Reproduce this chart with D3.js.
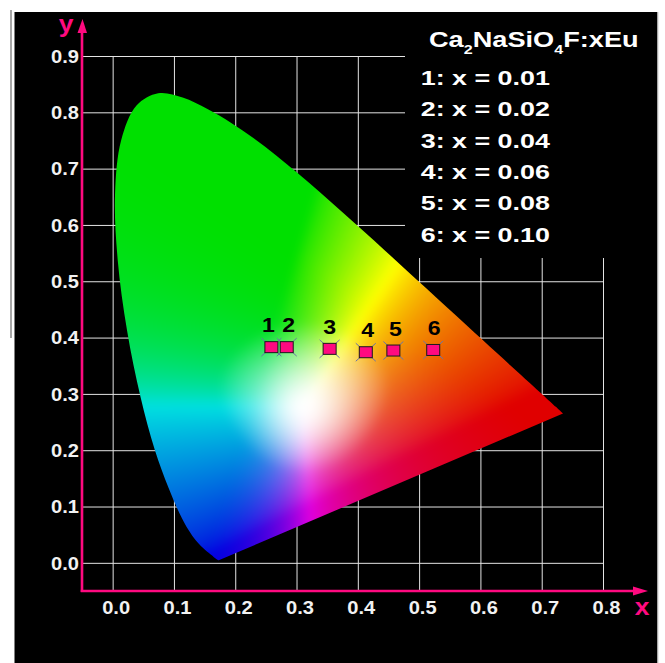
<!DOCTYPE html>
<html>
<head>
<meta charset="utf-8">
<script src="https://cdn.jsdelivr.net/npm/d3@7"></script>
<style>
  html, body { margin: 0; padding: 0; background: #fff; }
  svg { display: block; }
</style>
</head>
<body>
<svg id="chart" width="665" height="663"></svg>
<script>
// CIE 1931 2° spectral locus, 380–700 nm in 5 nm steps
const locusX = [0.1741,0.1740,0.1738,0.1736,0.1733,0.1730,0.1726,0.1721,0.1714,0.1703,
  0.1689,0.1669,0.1644,0.1611,0.1566,0.1510,0.1440,0.1355,0.1241,0.1096,
  0.0913,0.0687,0.0454,0.0235,0.0082,0.0039,0.0139,0.0389,0.0743,0.1142,
  0.1547,0.1929,0.2296,0.2658,0.3016,0.3373,0.3731,0.4087,0.4441,0.4788,
  0.5125,0.5448,0.5752,0.6029,0.6270,0.6482,0.6658,0.6801,0.6915,0.7006,
  0.7079,0.7140,0.7190,0.7230,0.7260,0.7283,0.7300,0.7311,0.7320,0.7327,
  0.7334,0.7340,0.7344,0.7346,0.7347];
const locusY = [0.0050,0.0050,0.0049,0.0049,0.0048,0.0048,0.0048,0.0048,0.0051,0.0058,
  0.0069,0.0086,0.0109,0.0138,0.0177,0.0227,0.0297,0.0399,0.0578,0.0868,
  0.1327,0.2007,0.2950,0.4127,0.5384,0.6548,0.7502,0.8120,0.8338,0.8262,
  0.8059,0.7816,0.7543,0.7243,0.6923,0.6589,0.6245,0.5896,0.5547,0.5202,
  0.4866,0.4544,0.4242,0.3965,0.3725,0.3514,0.3340,0.3197,0.3083,0.2993,
  0.2920,0.2859,0.2809,0.2770,0.2740,0.2717,0.2700,0.2689,0.2680,0.2673,
  0.2666,0.2660,0.2656,0.2654,0.2653];

// Axis ticks
const xTicks = [0.0, 0.1, 0.2, 0.3, 0.4, 0.5, 0.6, 0.7, 0.8];
const yTicks = [0.0, 0.1, 0.2, 0.3, 0.4, 0.5, 0.6, 0.7, 0.8, 0.9];

// Chromaticity coordinates of the Ca2NaSiO4F:xEu samples
const sampleNames = ["1", "2", "3", "4", "5", "6"];
const sampleX = [0.259, 0.284, 0.354, 0.413, 0.458, 0.523];
const sampleY = [0.383, 0.383, 0.380, 0.374, 0.377, 0.378];
const sampleLabelNudge = [-3, 2, 0, 2, 2, 1];

// Legend
const legendLines = ["1: x = 0.01", "2: x = 0.02", "3: x = 0.04",
                     "4: x = 0.06", "5: x = 0.08", "6: x = 0.10"];

const PINK = "#ff0a80";
const svg = d3.select("#chart");

const x = d3.scaleLinear().domain([-0.05, 0.8]).range([82, 603]);
const y = d3.scaleLinear().domain([-0.05, 0.9]).range([591, 56]);

// panel background and frame lines
svg.append("rect").attr("x", 14.5).attr("y", 12).attr("width", 643).attr("height", 651).attr("fill", "#000");
svg.append("line").attr("x1", 11).attr("x2", 11).attr("y1", 10).attr("y2", 338)
  .attr("stroke", "#8a8a8a").attr("stroke-width", 1.5);
svg.append("line").attr("x1", 658).attr("x2", 658).attr("y1", 12).attr("y2", 663)
  .attr("stroke", "#d0d0d0").attr("stroke-width", 1);

// grid and tick labels through d3 axes
const fmt = d3.format(".1f");
const gx = svg.append("g").attr("transform", `translate(0,${y(-0.05)})`)
  .call(d3.axisBottom(x).tickValues(xTicks).tickFormat(fmt)
    .tickSize(-(y(-0.05) - y(0.9))).tickPadding(0));
const gy = svg.append("g").attr("transform", `translate(${x(-0.05)},0)`)
  .call(d3.axisLeft(y).tickValues(yTicks).tickFormat(fmt)
    .tickSize(-(x(0.8) - x(-0.05))).tickPadding(0));
[gx, gy].forEach(g => {
  g.select(".domain").remove();
  g.selectAll(".tick line").attr("stroke", "#e4e4e4").attr("stroke-width", 1);
  g.selectAll(".tick text")
    .attr("fill", "#f2f2f2")
    .attr("font-family", "'Liberation Sans', Arial, sans-serif")
    .attr("font-weight", "bold")
    .attr("font-size", 17.5)
    .attr("x", 0).attr("y", 0).attr("dy", null);
});
gx.selectAll(".tick text").attr("text-anchor", "middle")
  .attr("transform", "translate(3,23) scale(1.15,1)");
gy.selectAll(".tick text").attr("text-anchor", "end")
  .attr("transform", "translate(-3,6.3) scale(1.15,1)");

// legend panel hides the upper-right part of the grid
svg.append("rect").attr("x", 405).attr("y", 12).attr("width", 252).attr("height", 246).attr("fill", "#000");

// chromaticity gamut
const locus = locusX.map((v, i) => [x(v), y(locusY[i])]);
const defs = svg.append("defs");
defs.append("clipPath").attr("id", "gamutClip")
  .append("path").attr("d", d3.line().curve(d3.curveCatmullRom.alpha(0.5))(locus) + "Z");

// colour field: chromaticity -> linear sRGB, negatives clipped, normalised to the brightest
// channel, shaped per channel, faded towards white around the white spot and softened
const WHITE_X = 0.3127, WHITE_SHIFT = 0.05;
const P_RG = 0.65, FADE_UP = 0.15, FADE_DOWN = 0.12, EDGE_LEVEL = 0.88;
const pad = 20;
const x0 = Math.floor(x(0)) - pad, x1 = Math.ceil(x(0.74)) + pad;
const y0 = Math.floor(y(0.845)) - pad, y1 = Math.ceil(y(0)) + pad;
const cw = x1 - x0, ch = y1 - y0;
const raw = document.createElement("canvas");
raw.width = cw; raw.height = ch;
const rctx = raw.getContext("2d");
const img = rctx.createImageData(cw, ch);
const wy = 0.329 - WHITE_SHIFT;
const smooth = t => { t = Math.max(0, Math.min(1, t)); return t * t * (3 - 2 * t); };
for (let j = 0; j < ch; j++) {
  const py = y.invert(y0 + j + 0.5);
  const cy = Math.max(py + WHITE_SHIFT, 0.002);
  const fade = FADE_DOWN + (FADE_UP - FADE_DOWN) * smooth((py - wy + 0.08) / 0.16);
  for (let i = 0; i < cw; i++) {
    const cx = x.invert(x0 + i + 0.5);
    const X = cx / cy, Y = 1, Z = (1 - cx - cy) / cy;
    let r = 3.2406 * X - 1.5372 * Y - 0.4986 * Z;
    let g = -0.9689 * X + 1.8758 * Y + 0.0415 * Z;
    let b = 0.0557 * X - 0.2040 * Y + 1.0570 * Z;
    r = Math.max(r, 0); g = Math.max(g, 0); b = Math.max(b, 0);
    const m = Math.max(r, g, b) || 1;
    r /= m; g /= m; b /= m;
    const pr = P_RG + 0.9 * b;
    const pb = 1.0 + 0.75 * g / (r + g + 1e-6);
    const rgb = [Math.pow(r, pr), Math.pow(g, P_RG), Math.pow(b, pb)];
    const d = Math.hypot(cx - WHITE_X, py - wy);
    const s = Math.pow(Math.min(1, d / fade), 1.1);
    const lvl = 1 - (1 - EDGE_LEVEL) * s * (1 - Math.min(rgb[0], rgb[1]));
    const k = (j * cw + i) * 4;
    rgb.forEach((v, n) => { img.data[k + n] = 255 * lvl * (1 - s * (1 - v)); });
    img.data[k + 3] = 255;
  }
}
rctx.putImageData(img, 0, 0);
const soft = document.createElement("canvas");
soft.width = cw; soft.height = ch;
const sctx = soft.getContext("2d");
sctx.filter = "blur(5px)";
sctx.drawImage(raw, 0, 0);
svg.append("image")
  .attr("x", x0).attr("y", y0).attr("width", cw).attr("height", ch)
  .attr("href", soft.toDataURL())
  .attr("clip-path", "url(#gamutClip)");

// pink axes with arrowheads
const axisY = y(-0.05), axisX = x(-0.05);
svg.append("line").attr("x1", axisX).attr("x2", axisX).attr("y1", axisY + 1).attr("y2", 30)
  .attr("stroke", PINK).attr("stroke-width", 2.6);
svg.append("path").attr("d", `M${axisX - 4.5},33 L${axisX + 0.5},19 L${axisX + 5},33 Z`).attr("fill", PINK);
svg.append("line").attr("x1", axisX - 1.3).attr("x2", 636).attr("y1", axisY).attr("y2", axisY)
  .attr("stroke", PINK).attr("stroke-width", 2.6);
svg.append("path").attr("d", `M633,${axisY - 4.5} L648,${axisY} L633,${axisY + 4.5} Z`).attr("fill", PINK);

const axisFont = "'Liberation Sans', Arial, sans-serif";
svg.append("text").text("y").attr("transform", "translate(66,32) scale(1.15,1)")
  .attr("text-anchor", "middle").attr("font-family", axisFont).attr("font-weight", "bold")
  .attr("font-size", 23).attr("fill", PINK);
svg.append("text").text("x").attr("transform", "translate(642,615) scale(1.15,1)")
  .attr("text-anchor", "middle").attr("font-family", axisFont).attr("font-weight", "bold")
  .attr("font-size", 23).attr("fill", PINK);

// sample markers
const samples = sampleNames.map((n, i) => ({ n, cx: sampleX[i], cy: sampleY[i], dx: sampleLabelNudge[i] }));
const mk = svg.append("g").selectAll("g").data(samples).join("g")
  .attr("transform", d => `translate(${x(d.cx)},${y(d.cy)})`);
mk.append("path").attr("d", "M-10,-9L10,9M-10,9L10,-9")
  .attr("stroke", "#6a74a8").attr("stroke-width", 1);
mk.append("rect").attr("x", -6.5).attr("y", -5.5).attr("width", 13).attr("height", 11)
  .attr("fill", PINK).attr("stroke", "#1a1a1a").attr("stroke-width", 1);
mk.append("text").text(d => d.n)
  .attr("transform", d => `translate(${d.dx},-15) scale(1.1,1)`)
  .attr("text-anchor", "middle").attr("font-family", axisFont).attr("font-weight", "bold")
  .attr("font-size", 21).attr("fill", "#000");

// legend text
const title = svg.append("text").attr("transform", "translate(429,46.7) scale(1.235,1)")
  .attr("font-family", axisFont).attr("font-weight", "bold").attr("font-size", 22).attr("fill", "#fff");
title.append("tspan").text("Ca");
title.append("tspan").text("2").attr("font-size", 13).attr("dy", 7);
title.append("tspan").text("NaSiO").attr("dy", -7);
title.append("tspan").text("4").attr("font-size", 13).attr("dy", 7);
title.append("tspan").text("F:xEu").attr("dy", -7);

svg.append("g").selectAll("text").data(legendLines).join("text")
  .text(d => d)
  .attr("transform", (d, i) => `translate(420.7,${85 + i * 31.3}) scale(1.28,1)`)
  .attr("font-family", axisFont).attr("font-weight", "bold").attr("font-size", 21).attr("fill", "#fff");
</script>
</body>
</html>
